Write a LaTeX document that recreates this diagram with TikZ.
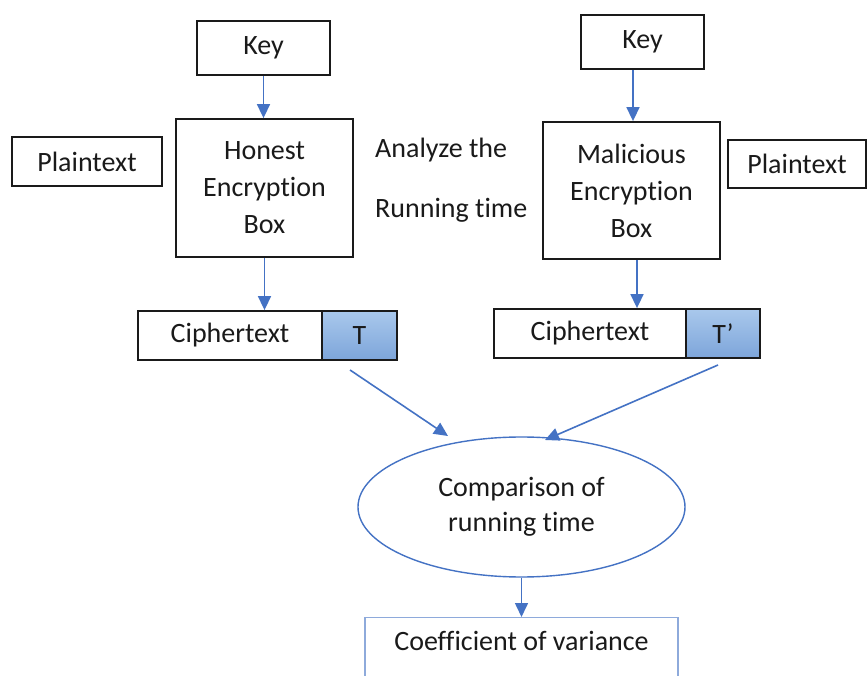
\documentclass[tikz,border=0pt]{standalone}
\usepackage{fontspec}
\setmainfont{Carlito}[Ligatures=NoCommon]
\usetikzlibrary{arrows.meta,shapes.geometric}
\definecolor{arrowblue}{HTML}{4472C4}
\definecolor{ink}{HTML}{1A1A1A}
\definecolor{tagtop}{HTML}{A9C8EC}
\definecolor{tagbot}{HTML}{7DA5DA}
\definecolor{paleblue}{HTML}{8EAADB}
\begin{document}
\begin{tikzpicture}[x=1pt,y=-1pt,
  every node/.style={font=\fontsize{28}{37}\selectfont, text=ink, inner sep=0pt},
  box/.style={draw=ink, line width=1.8pt, rectangle, align=center},
  tag/.style={box, top color=tagtop, bottom color=tagbot},
  arr/.style={draw=arrowblue, line width=1.6pt, -{Triangle[width=13pt,length=14pt]}}]

% page frame
\fill[white] (0,0) rectangle (868,676);
\useasboundingbox (0,0) rectangle (868,676);

% honest side
\node[box, minimum width=133pt, minimum height=54pt] (keyL) at (263.5,48) {Key};
\node[box, minimum width=177pt, minimum height=138pt] (honest) at (264.5,188) {Honest\\Encryption\\Box};
\node[box, minimum width=150pt, minimum height=49pt] (plainL) at (87,161.5) {Plaintext};
\node[box, minimum width=184pt, minimum height=49pt] (cipherL) at (230,335.5) {Ciphertext};
\node[tag, minimum width=75pt, minimum height=49pt] (tL) at (359.5,335.5) {T};

% malicious side
\node[box, minimum width=123pt, minimum height=54pt] (keyR) at (642.5,42) {Key};
\node[box, minimum width=177pt, minimum height=137pt] (malicious) at (631.5,190.5) {Malicious\\Encryption\\Box};
\node[box, minimum width=138pt, minimum height=48pt] (plainR) at (797,164) {Plaintext};
\node[box, minimum width=192pt, minimum height=49pt] (cipherR) at (590,333.5) {Ciphertext};
\node[tag, minimum width=74pt, minimum height=49pt] (tR) at (723,333.5) {T’};

% middle caption
\node[align=left, anchor=west, font=\fontsize{28}{60}\selectfont] (caption) at (375,180) {Analyze the\\Running time};

% comparison and result
\node[ellipse, draw=arrowblue, line width=1.4pt, minimum width=327pt, minimum height=140pt,
      align=center, font=\fontsize{28}{35}\selectfont] (cmp) at (521.5,507) {Comparison of\\running time};
\node[draw=paleblue, line width=1.4pt, minimum width=313pt, anchor=north,
      text height=20pt, text depth=80pt, inner ysep=13pt] (coef) at (521.5,617) {Coefficient of variance};

% connectors
\draw[arr] (keyL.south) -- (keyL.south |- honest.north);
\draw[arr] ([xshift=-9.5pt]keyR.south) -- ([xshift=-9.5pt]keyR.south |- malicious.north);
\draw[arr] (honest.south) -- (honest.south |- cipherL.north);
\draw[arr] ([xshift=5.5pt]malicious.south) -- ([xshift=5.5pt]malicious.south |- cipherR.north);
\coordinate (fromL) at (350,370);
\coordinate (toL) at (448,436);
\coordinate (fromR) at (718,365);
\coordinate (toR) at (545,440);
\draw[arr] (fromL) -- (toL);
\draw[arr] (fromR) -- (toR);
\draw[arr] (cmp.south) -- (cmp.south |- coef.north);
\end{tikzpicture}
\end{document}
